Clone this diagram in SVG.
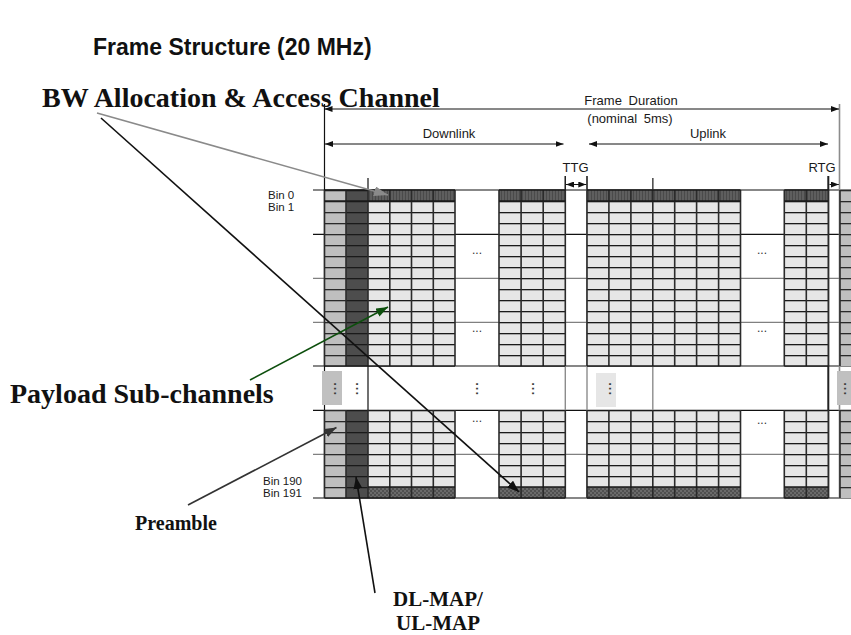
<svg xmlns="http://www.w3.org/2000/svg" width="851" height="635" viewBox="0 0 851 635">
<style>
.sans{font-family:"Liberation Sans",Arial,sans-serif}
.serif{font-family:"Liberation Serif","Times New Roman",serif;font-weight:bold}
.lbl{font-size:13px;fill:#1a1a1a}
.bin{font-size:11.5px;fill:#1a1a1a}
.col{stroke:#2b2b2b;stroke-width:1.6;fill:none}
.hl{stroke:#111;stroke-width:1.2}
.hg{stroke:#808080;stroke-width:1.2}
.dots{font-family:"Liberation Sans",Arial,sans-serif;font-size:12px;font-weight:bold;fill:#3a3a3a;letter-spacing:1.3px}
.ell{font-family:"Liberation Sans",Arial,sans-serif;font-size:12px;fill:#333}
</style>
<defs>
<pattern id="pl" patternUnits="userSpaceOnUse" x="0" y="190" width="20" height="11">
<rect width="20" height="11" fill="#e6e6e6"/><rect width="20" height="1.3" fill="#1a1a1a"/>
</pattern>
<pattern id="pp" patternUnits="userSpaceOnUse" x="0" y="190" width="20" height="11">
<rect width="20" height="11" fill="#bfbfbf"/><rect width="20" height="1.3" fill="#2a2a2a"/>
</pattern>
<pattern id="pm" patternUnits="userSpaceOnUse" x="0" y="190" width="20" height="11">
<rect width="20" height="11" fill="#4d4d4d"/><rect width="20" height="1.3" fill="#1a1a1a"/>
</pattern>
<pattern id="ps" patternUnits="userSpaceOnUse" x="0" y="0" width="3" height="11">
<rect width="3" height="11" fill="#5e5e5e"/><rect width="1" height="11" fill="#4a4a4a"/>
</pattern>
<pattern id="pc" patternUnits="userSpaceOnUse" x="0" y="0" width="4" height="4">
<rect width="4" height="4" fill="#6a6a6a"/><rect width="2" height="2" fill="#505050"/><rect x="2" y="2" width="2" height="2" fill="#505050"/>
</pattern>
<marker id="dh" viewBox="0 0 8 6" refX="8" refY="3" markerWidth="8" markerHeight="6" markerUnits="userSpaceOnUse" orient="auto-start-reverse">
<path d="M0,0 L8,3 L0,6 z" fill="#111"/>
</marker>
<marker id="ak" viewBox="0 0 12 9" refX="12" refY="4.5" markerWidth="12" markerHeight="9" markerUnits="userSpaceOnUse" orient="auto">
<path d="M0,0 L12,4.5 L0,9 z" fill="#111"/>
</marker>
<marker id="ag" viewBox="0 0 14 10" refX="14" refY="5" markerWidth="14" markerHeight="10" markerUnits="userSpaceOnUse" orient="auto">
<path d="M0,0 L14,5 L0,10 z" fill="#8a8a8a"/>
</marker>
<marker id="agr" viewBox="0 0 12 9" refX="12" refY="4.5" markerWidth="12" markerHeight="9" markerUnits="userSpaceOnUse" orient="auto">
<path d="M0,0 L12,4.5 L0,9 z" fill="#0d4f0d"/>
</marker>
<marker id="ad" viewBox="0 0 12 9" refX="12" refY="4.5" markerWidth="12" markerHeight="9" markerUnits="userSpaceOnUse" orient="auto">
<path d="M0,0 L12,4.5 L0,9 z" fill="#333"/>
</marker>
</defs>
<rect width="851" height="635" fill="#fff"/>

<g id="title">
<text class="sans" x="93" y="55" font-size="23" font-weight="bold" fill="#111">Frame Structure (20 MHz)</text>
</g>

<g id="grid-lines">
<line class="hl" x1="313" y1="190" x2="851" y2="190"/>
<line class="hl" x1="313" y1="234.3" x2="851" y2="234.3"/>
<line class="hg" x1="313" y1="278.3" x2="851" y2="278.3"/>
<line class="hg" x1="313" y1="322.3" x2="851" y2="322.3"/>
<line class="hl" x1="313" y1="366" x2="851" y2="366"/>
<line class="hl" x1="313" y1="410.3" x2="851" y2="410.3"/>
<line class="hg" x1="313" y1="454.3" x2="851" y2="454.3"/>
<line class="hl" x1="313" y1="498" x2="851" y2="498"/>
<line x1="324.5" y1="104" x2="324.5" y2="498" stroke="#111" stroke-width="1.2"/>
<line x1="839.5" y1="104" x2="839.5" y2="498" stroke="#8c8c8c" stroke-width="1.6"/>
<line x1="368" y1="178" x2="368" y2="498" stroke="#111" stroke-width="1.2"/>
<line x1="652.8" y1="178" x2="652.8" y2="498" stroke="#8c8c8c" stroke-width="1.4"/>
<line x1="565.3" y1="176" x2="565.3" y2="498" stroke="#8c8c8c" stroke-width="1.4"/>
<line x1="587" y1="176" x2="587" y2="498" stroke="#8c8c8c" stroke-width="1.4"/>
<line x1="828.3" y1="176" x2="828.3" y2="498" stroke="#222" stroke-width="2"/>
<line x1="565.3" y1="176" x2="565.3" y2="190" stroke="#222" stroke-width="1.4"/>
<line x1="587" y1="176" x2="587" y2="190" stroke="#222" stroke-width="1.4"/>
<line x1="652.8" y1="178" x2="652.8" y2="190" stroke="#444" stroke-width="1.2"/>
</g>

<g id="preamble-col">
<rect x="324.5" y="190" width="21.5" height="176" fill="url(#pp)"/>
<rect x="324.5" y="410" width="21.5" height="88" fill="url(#pp)"/>
<rect x="840" y="190" width="11" height="176" fill="url(#pp)"/>
<rect x="840" y="410" width="11" height="88" fill="url(#pp)"/>
</g>
<g id="dlmap-col">
<rect x="346" y="190" width="22" height="176" fill="url(#pm)"/>
<rect x="346" y="410" width="22" height="88" fill="url(#pm)"/>
</g>
<g id="data-cols">
<rect x="368" y="190" width="87" height="176" fill="url(#pl)"/>
<rect x="368" y="410" width="87" height="88" fill="url(#pl)"/>
<rect x="499" y="190" width="66.3" height="176" fill="url(#pl)"/>
<rect x="499" y="410" width="66.3" height="88" fill="url(#pl)"/>
<rect x="587" y="190" width="153.5" height="176" fill="url(#pl)"/>
<rect x="587" y="410" width="153.5" height="88" fill="url(#pl)"/>
<rect x="784.3" y="190" width="44" height="176" fill="url(#pl)"/>
<rect x="784.3" y="410" width="44" height="88" fill="url(#pl)"/>
<rect x="368" y="190" width="87" height="11" fill="url(#ps)"/>
<rect x="499" y="190" width="66.3" height="11" fill="url(#ps)"/>
<rect x="587" y="190" width="153.5" height="11" fill="url(#ps)"/>
<rect x="784.3" y="190" width="44" height="11" fill="url(#ps)"/>
<rect x="368" y="487" width="87" height="11" fill="url(#pc)"/>
<rect x="499" y="487" width="66.3" height="11" fill="url(#pc)"/>
<rect x="587" y="487" width="153.5" height="11" fill="url(#pc)"/>
<rect x="784.3" y="487" width="44" height="11" fill="url(#pc)"/>
<path class="col" d="M324.5,190V366M346,190V366M368,190V366M389.8,190V366M411.5,190V366M433.3,190V366M455,190V366
M499,190V366M521.1,190V366M543.2,190V366M565.3,190V366
M587,190V366M608.9,190V366M630.9,190V366M652.8,190V366M674.7,190V366M696.6,190V366M718.6,190V366M740.5,190V366
M784.3,190V366M806.3,190V366M828.3,190V366M840,190V366
M324.5,410V498M346,410V498M368,410V498M389.8,410V498M411.5,410V498M433.3,410V498M455,410V498
M499,410V498M521.1,410V498M543.2,410V498M565.3,410V498
M587,410V498M608.9,410V498M630.9,410V498M652.8,410V498M674.7,410V498M696.6,410V498M718.6,410V498M740.5,410V498
M784.3,410V498M806.3,410V498M828.3,410V498M840,410V498"/>
<path d="M324.5,201H455M499,201H565.3M587,201H740.5M784.3,201H828.3M368,487H455M499,487H565.3M587,487H740.5M784.3,487H828.3M324.5,366H455M499,366H565.3M587,366H740.5M784.3,366H828.3M324.5,498H455M499,498H565.3M587,498H740.5M784.3,498H828.3M324.5,190H455M499,190H565.3M587,190H740.5M784.3,190H828.3" stroke="#1a1a1a" stroke-width="1.3" fill="none"/>
</g>

<g id="gap-band">
<rect x="322" y="371" width="20" height="34" fill="#c0c0c0"/>
<rect x="596" y="373" width="20" height="34" fill="#e6e6e6"/>
<rect x="837" y="371" width="14" height="34" fill="#c0c0c0"/>
<text class="dots" x="336" y="388" text-anchor="middle" transform="rotate(-90 336 388)">...</text>
<text class="dots" x="358" y="388" text-anchor="middle" transform="rotate(-90 358 388)">...</text>
<text class="dots" x="478" y="388" text-anchor="middle" transform="rotate(-90 478 388)">...</text>
<text class="dots" x="534" y="388" text-anchor="middle" transform="rotate(-90 534 388)">...</text>
<text class="dots" x="610.5" y="388" text-anchor="middle" transform="rotate(-90 610.5 388)">...</text>
<text class="dots" x="846" y="388" text-anchor="middle" transform="rotate(-90 846 388)">...</text>
<text class="ell" x="477" y="254" text-anchor="middle">...</text>
<text class="ell" x="477" y="332" text-anchor="middle">...</text>
<text class="ell" x="477" y="422" text-anchor="middle">...</text>
<text class="ell" x="762" y="254" text-anchor="middle">...</text>
<text class="ell" x="762" y="332" text-anchor="middle">...</text>
<text class="ell" x="762" y="424" text-anchor="middle">...</text>
</g>

<g id="dimensions">
<line x1="324.5" y1="109" x2="839" y2="109" stroke="#111" stroke-width="1" marker-start="url(#dh)" marker-end="url(#dh)"/>
<text class="sans lbl" x="631" y="105" text-anchor="middle" word-spacing="3">Frame Duration</text>
<text class="sans lbl" x="630" y="123" text-anchor="middle" word-spacing="3">(nominal 5ms)</text>
<line x1="325" y1="144" x2="563.5" y2="144" stroke="#111" stroke-width="1" marker-start="url(#dh)" marker-end="url(#dh)"/>
<text class="sans lbl" x="449" y="138" text-anchor="middle">Downlink</text>
<line x1="589" y1="144" x2="828" y2="144" stroke="#111" stroke-width="1" marker-start="url(#dh)" marker-end="url(#dh)"/>
<text class="sans lbl" x="708" y="138" text-anchor="middle">Uplink</text>
<line x1="566" y1="184.5" x2="586.3" y2="184.5" stroke="#111" stroke-width="1" marker-start="url(#dh)" marker-end="url(#dh)"/>
<text class="sans lbl" x="575.5" y="172" text-anchor="middle">TTG</text>
<line x1="829.5" y1="184.5" x2="838.8" y2="184.5" stroke="#111" stroke-width="1" marker-end="url(#dh)"/>
<text class="sans lbl" x="822" y="172" text-anchor="middle">RTG</text>
</g>

<g id="bin-labels">
<text class="sans bin" x="268" y="199">Bin 0</text>
<text class="sans bin" x="268" y="210.5">Bin 1</text>
<text class="sans bin" x="263" y="485">Bin 190</text>
<text class="sans bin" x="263" y="496.5">Bin 191</text>
</g>

<g id="connectors">
<line x1="97" y1="113" x2="388" y2="195" stroke="#8a8a8a" stroke-width="1.6" marker-end="url(#ag)"/>
<line x1="101" y1="118" x2="519" y2="492" stroke="#111" stroke-width="1.6" marker-end="url(#ak)"/>
<line x1="250" y1="380" x2="388" y2="307" stroke="#0d4f0d" stroke-width="1.6" marker-end="url(#agr)"/>
<line x1="188" y1="505" x2="336.5" y2="427.5" stroke="#333" stroke-width="1.6" marker-end="url(#ad)"/>
<line x1="375" y1="593" x2="356" y2="477" stroke="#111" stroke-width="1.6" marker-end="url(#ak)"/>
</g>

<g id="bw-label">
<text class="serif" x="42" y="107" font-size="28" fill="#111">BW Allocation &amp; Access Channel</text>
</g>
<g id="payload-label">
<text class="serif" x="10" y="403" font-size="28" fill="#111">Payload Sub-channels</text>
</g>
<g id="preamble-label">
<text class="serif" x="176" y="530" font-size="20" fill="#111" text-anchor="middle">Preamble</text>
</g>
<g id="dlmap-label">
<text class="serif" x="438" y="606" font-size="21" fill="#111" text-anchor="middle">DL-MAP/</text>
<text class="serif" x="438" y="630" font-size="21" fill="#111" text-anchor="middle">UL-MAP</text>
</g>
</svg>
